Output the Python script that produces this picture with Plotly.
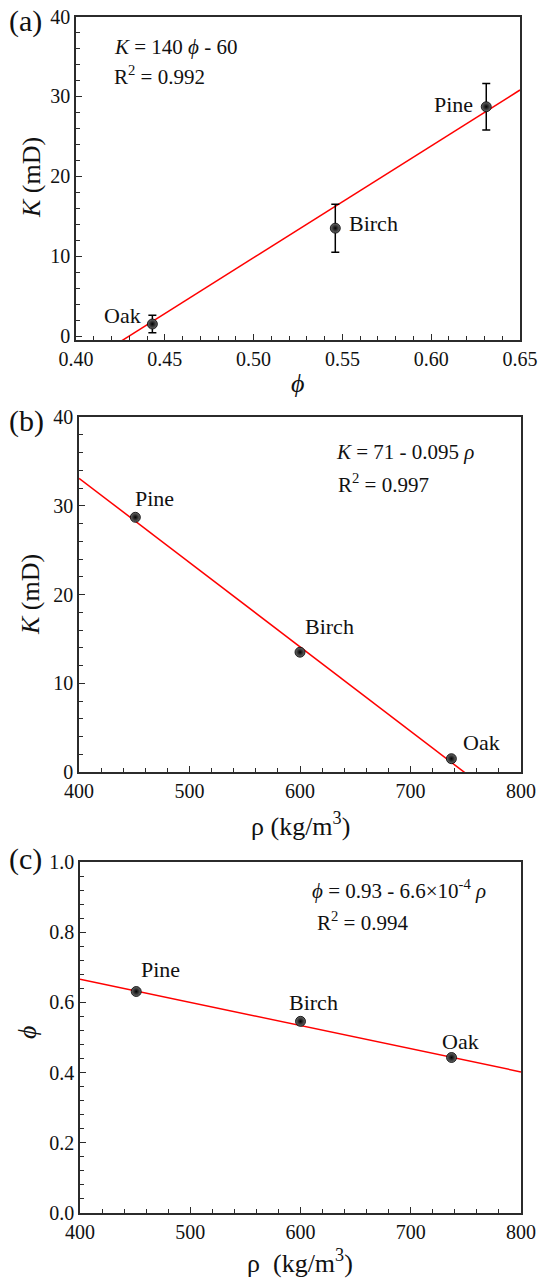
import plotly.graph_objects as go
import numpy as np

# ---------------- data ----------------
species = ["Pine", "Birch", "Oak"]
porosity = [0.631, 0.546, 0.443]          # phi
permeability = [28.7, 13.5, 1.5]          # K (mD)
perm_err = [2.9, 3.0, 1.1]
density = [451, 600, 737]                 # rho (kg/m3)

fit_a = [140.0, -60.2]        # K = a*phi + b
fit_b = [-0.095, 71.1]        # K = a*rho + b
fit_c = [-6.6e-4, 0.93]       # phi = a*rho + b

xt_a = [0.40, 0.45, 0.50, 0.55, 0.60, 0.65]
yt_ab = [0, 10, 20, 30, 40]
xt_bc = [400, 500, 600, 700, 800]
yt_c = [0.0, 0.2, 0.4, 0.6, 0.8, 1.0]

W, H = 545, 1278
FONT = "Liberation Serif, Times New Roman, serif"
AX = "#2b2b2b"


def px_x(p):
    return p / W


def px_y(p):
    return 1 - p / H


fig = go.Figure()

marker = dict(color="#6a6a6a", size=10,
              gradient=dict(type="radial", color="#000000"),
              line=dict(width=0.8, color="#000"))

# ---- (a) ----
xa = np.array([xt_a[0], xt_a[-1]])
fig.add_trace(go.Scatter(x=xa, y=fit_a[0] * xa + fit_a[1], mode="lines",
                         line=dict(color="#ff0000", width=1.5),
                         xaxis="x", yaxis="y", showlegend=False))
fig.add_trace(go.Scatter(x=porosity, y=permeability, mode="markers",
                         error_y=dict(type="data", array=perm_err, color="#000",
                                      thickness=1.5, width=4),
                         marker=marker, xaxis="x", yaxis="y", showlegend=False))

# ---- (b) ----
xb = np.array([xt_bc[0], xt_bc[-1]], dtype=float)
fig.add_trace(go.Scatter(x=xb, y=fit_b[0] * xb + fit_b[1], mode="lines",
                         line=dict(color="#ff0000", width=1.5),
                         xaxis="x2", yaxis="y2", showlegend=False))
fig.add_trace(go.Scatter(x=density, y=permeability, mode="markers",
                         marker=marker, xaxis="x2", yaxis="y2", showlegend=False))

# ---- (c) ----
fig.add_trace(go.Scatter(x=xb, y=fit_c[0] * xb + fit_c[1], mode="lines",
                         line=dict(color="#ff0000", width=1.5),
                         xaxis="x3", yaxis="y3", showlegend=False))
fig.add_trace(go.Scatter(x=density, y=porosity, mode="markers",
                         marker=marker, xaxis="x3", yaxis="y3", showlegend=False))


def axis(domain, rng, tickvals, fmt, minor_dt, anchor):
    return dict(domain=domain, range=rng, tickvals=tickvals, tickformat=fmt,
                anchor=anchor, showgrid=False, zeroline=False, automargin=False,
                showline=True, linecolor=AX, linewidth=1.5, mirror=True,
                ticks="inside", ticklen=6, tickwidth=1.2, tickcolor=AX,
                minor=dict(dtick=minor_dt, ticks="inside", ticklen=4,
                           tickwidth=1.0, tickcolor=AX, showgrid=False),
                tickfont=dict(family=FONT, size=20, color="#111"),
                fixedrange=True)


layout = dict(
    width=W, height=H, margin=dict(l=0, r=0, t=0, b=0, autoexpand=False),
    paper_bgcolor="white", plot_bgcolor="white", showlegend=False,
    xaxis=axis([px_x(76), px_x(520)], [0.40, 0.65], xt_a, ".2f", 0.01, "y"),
    yaxis=axis([px_y(340), px_y(16.5)], [-0.5, 40], yt_ab, "d", 2, "x"),
    xaxis2=axis([px_x(79), px_x(521)], [400, 800], xt_bc, "d", 20, "y2"),
    yaxis2=axis([px_y(772), px_y(417)], [0, 40], yt_ab, "d", 2, "x2"),
    xaxis3=axis([px_x(80), px_x(521)], [400, 800], xt_bc, "d", 20, "y3"),
    yaxis3=axis([px_y(1213), px_y(862)], [0, 1.0], yt_c, ".1f", 0.04, "x3"),
)
fig.update_layout(**layout)

ann = []


def paper_text(text, x, y, size, xanchor="left", yanchor="middle", angle=0):
    ann.append(dict(text=text, x=px_x(x), y=px_y(y), xref="paper", yref="paper",
                    xanchor=xanchor, yanchor=yanchor, showarrow=False,
                    textangle=angle,
                    font=dict(family=FONT, size=size, color="#111")))


# panel labels
paper_text("(a)", 7, 21, 30)
paper_text("(b)", 7, 421, 30)
paper_text("(c)", 7, 859, 30)

# equations
paper_text("<i>K</i> = 140 <i>ϕ</i> - 60", 112, 47, 21)
paper_text("R<sup>2</sup> = 0.992", 112, 76, 21)
paper_text("<i>K</i> = 71 - 0.095 <i>ρ</i>", 334, 452, 21)
paper_text("R<sup>2</sup> = 0.997", 336, 483, 21)
paper_text("<i>ϕ</i> = 0.93 - 6.6×10<sup>-4</sup> <i>ρ</i>", 310, 890, 21)
paper_text("R<sup>2</sup> = 0.994", 315, 921, 21)

# axis titles
paper_text("<i>ϕ</i>", 297, 383, 26, xanchor="center")
paper_text("ρ (kg/m<sup>3</sup>)", 300, 824, 26, xanchor="center")
paper_text("ρ  (kg/m<sup>3</sup>)", 300, 1261, 26, xanchor="center")
paper_text("<i>K</i> (mD)", 31, 178, 26, xanchor="center", angle=-90)
paper_text("<i>K</i> (mD)", 31, 595, 26, xanchor="center", angle=-90)
paper_text("<i>ϕ</i>", 27, 1033, 26, xanchor="center", angle=-90)

# point labels (anchored to data points)
lab_a = [dict(xanchor="right", xshift=-11, yshift=2),
         dict(xanchor="left", xshift=12, yshift=5),
         dict(xanchor="right", xshift=-9, yshift=9)]
lab_b = [dict(xanchor="left", xshift=-2, yshift=19),
         dict(xanchor="left", xshift=3, yshift=26),
         dict(xanchor="left", xshift=10, yshift=16)]
lab_c = [dict(xanchor="left", xshift=3, yshift=22),
         dict(xanchor="left", xshift=-14, yshift=19),
         dict(xanchor="left", xshift=-12, yshift=16)]

for i, name in enumerate(species):
    ann.append(dict(text=name, x=porosity[i], y=permeability[i], xref="x", yref="y",
                    showarrow=False, yanchor="middle",
                    font=dict(family=FONT, size=22, color="#111"), **lab_a[i]))
    ann.append(dict(text=name, x=density[i], y=permeability[i], xref="x2", yref="y2",
                    showarrow=False, yanchor="middle",
                    font=dict(family=FONT, size=22, color="#111"), **lab_b[i]))
    ann.append(dict(text=name, x=density[i], y=porosity[i], xref="x3", yref="y3",
                    showarrow=False, yanchor="middle",
                    font=dict(family=FONT, size=22, color="#111"), **lab_c[i]))

fig.update_layout(annotations=ann)
fig.write_html("out.html")
